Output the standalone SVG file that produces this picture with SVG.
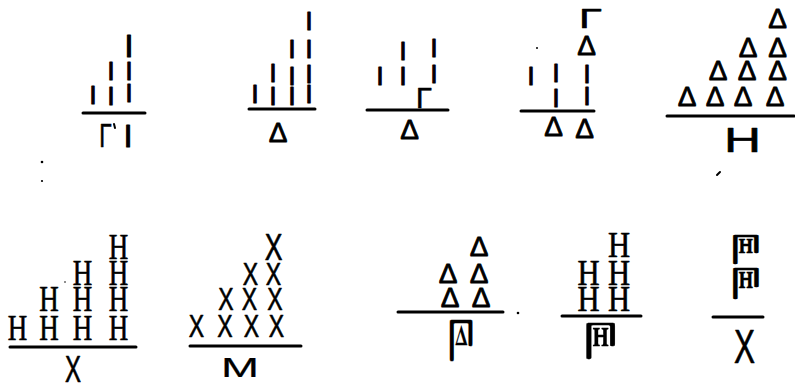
<svg xmlns="http://www.w3.org/2000/svg" width="795" height="390" viewBox="0 0 795 390">
<style>
text{fill:#000;stroke:#000;stroke-width:0.6;stroke-linejoin:round;text-anchor:middle;font-family:"Liberation Sans",Arial,sans-serif}
.i{font-size:25px;stroke-width:1.1}
.d{font-size:28px;stroke-width:0.8}
.h{font-family:"Liberation Serif","Times New Roman",serif;font-size:36px}
.x{font-size:32px}
.n{font-family:"DejaVu Sans","Noto Sans","Noto Sans Symbols",sans-serif;stroke-width:0.3}
.ln{stroke:#000;stroke-width:3;stroke-linecap:round;fill:none}
.mk{stroke:#000;stroke-width:2;stroke-linecap:round;fill:none}
</style>
<rect width="795" height="390" fill="#fff"/>

<g id="p1">
<text class="i"><tspan x="93" y="104">I</tspan><tspan x="111" y="80">I</tspan><tspan x="111" y="105">I</tspan><tspan x="129" y="57" style="font-size:32px">I</tspan><tspan x="129" y="80">I</tspan><tspan x="129" y="102">I</tspan></text>
<line class="ln" x1="83" y1="113" x2="145" y2="113"/>
<text><tspan x="105.5" y="147" style="font-size:33px" textLength="12.5" lengthAdjust="spacingAndGlyphs">Γ</tspan><tspan x="128" y="147" style="font-size:31px;stroke-width:1.1">I</tspan></text>
<path class="mk" d="M114,124 L115,128"/>
</g>

<g id="p2">
<text class="i"><tspan x="255" y="103">I</tspan><tspan x="273" y="82">I</tspan><tspan x="273" y="105">I</tspan><tspan x="292" y="58">I</tspan><tspan x="292" y="85">I</tspan><tspan x="292" y="105">I</tspan><tspan x="309" y="30">I</tspan><tspan x="309" y="58">I</tspan><tspan x="309" y="83">I</tspan><tspan x="309" y="103">I</tspan></text>
<line class="ln" x1="249" y1="109" x2="315" y2="109"/>
<text class="d" x="278" y="142">Δ</text>
</g>

<g id="p3">
<text class="i"><tspan x="380" y="85">I</tspan><tspan x="403" y="60">I</tspan><tspan x="403" y="85">I</tspan><tspan x="434" y="57">I</tspan><tspan x="434" y="83">I</tspan><tspan x="424" y="108" style="font-size:29px;stroke-width:0.6">Γ</tspan></text>
<line class="ln" x1="367" y1="110" x2="448" y2="110"/>
<text class="d" x="409.5" y="139">Δ</text>
</g>

<g id="p4">
<text class="i"><tspan x="590.5" y="28" style="font-size:28px;stroke-width:0.6" textLength="23" lengthAdjust="spacingAndGlyphs">Γ</tspan><tspan x="586.5" y="55" style="font-size:28px;stroke-width:0.8">Δ</tspan><tspan x="531" y="85">I</tspan><tspan x="556" y="82">I</tspan><tspan x="556" y="107">I</tspan><tspan x="587" y="83">I</tspan><tspan x="587" y="105">I</tspan></text>
<circle cx="537" cy="48" r="1" fill="#000"/>
<line class="ln" x1="521" y1="111" x2="594" y2="111"/>
<text class="d"><tspan x="553.5" y="136">Δ</tspan><tspan x="584.5" y="138">Δ</tspan></text>
</g>

<g id="p5">
<text class="d"><tspan x="777.5" y="28">Δ</tspan><tspan x="748" y="57">Δ</tspan><tspan x="777.5" y="57">Δ</tspan><tspan x="718" y="80">Δ</tspan><tspan x="747" y="80">Δ</tspan><tspan x="777.5" y="80">Δ</tspan><tspan x="687" y="106">Δ</tspan><tspan x="715" y="106">Δ</tspan><tspan x="743" y="106">Δ</tspan><tspan x="775" y="106">Δ</tspan></text>
<line class="ln" x1="667" y1="116" x2="794" y2="116"/>
<text x="742.5" y="152" style="font-size:35px" textLength="37" lengthAdjust="spacingAndGlyphs">H</text>
<path class="mk" d="M717,175 L720,172"/>
</g>

<g id="p6">
<text class="h" transform="scale(0.75,1)"><tspan x="23.33" y="340">H</tspan><tspan x="65.33" y="311">H</tspan><tspan x="65.33" y="340">H</tspan><tspan x="110" y="285">H</tspan><tspan x="110" y="311">H</tspan><tspan x="110" y="340">H</tspan><tspan x="158" y="259">H</tspan><tspan x="158" y="285">H</tspan><tspan x="158" y="311">H</tspan><tspan x="158" y="340">H</tspan></text>
<circle cx="65" cy="282" r="0.8" fill="#000"/>
<line class="ln" x1="10" y1="347" x2="136" y2="347"/>
<text x="73" y="382" style="font-size:37px" textLength="16" lengthAdjust="spacingAndGlyphs">X</text>
</g>

<g id="p7">
<text class="x" transform="scale(0.72,1)"><tspan x="272.9" y="337">X</tspan><tspan x="312.5" y="337">X</tspan><tspan x="349.3" y="337">X</tspan><tspan x="384" y="337">X</tspan><tspan x="313.9" y="310">X</tspan><tspan x="346.5" y="310">X</tspan><tspan x="381.9" y="310">X</tspan><tspan x="347.9" y="285">X</tspan><tspan x="379.9" y="285">X</tspan><tspan x="379.9" y="260" style="font-size:37px">X</tspan></text>
<line class="ln" x1="190" y1="346" x2="301" y2="346"/>
<text x="240" y="377" style="font-size:27px;stroke-width:0.2" textLength="38" lengthAdjust="spacingAndGlyphs">M</text>
</g>

<g id="p8">
<text class="d"><tspan x="479" y="256">Δ</tspan><tspan x="448" y="283">Δ</tspan><tspan x="479" y="283">Δ</tspan><tspan x="450" y="307">Δ</tspan><tspan x="481" y="307">Δ</tspan></text>
<line class="ln" x1="398" y1="312" x2="503" y2="312"/>
<circle cx="518" cy="313" r="1.3" fill="#000"/>
<text class="n" x="461" y="360" style="font-size:60px" textLength="26" lengthAdjust="spacingAndGlyphs">𐅄</text>
</g>

<g id="p9">
<text class="h" transform="scale(0.85,1)"><tspan x="728.24" y="257">H</tspan><tspan x="692.35" y="285">H</tspan><tspan x="728.24" y="285">H</tspan><tspan x="692.35" y="311">H</tspan><tspan x="728.24" y="311">H</tspan></text>
<line class="ln" x1="562" y1="316" x2="641" y2="316"/>
<text class="n" x="600" y="358" style="font-size:53px" textLength="33" lengthAdjust="spacingAndGlyphs">𐅅</text>
</g>

<g id="p10">
<text class="n"><tspan x="746" y="263" style="font-size:42px" textLength="30" lengthAdjust="spacingAndGlyphs">𐅅</tspan><tspan x="746" y="298" style="font-size:45px" textLength="30" lengthAdjust="spacingAndGlyphs">𐅅</tspan></text>
<line class="ln" x1="713" y1="317" x2="763" y2="317"/>
<text x="744.5" y="363" style="font-size:49px" textLength="21" lengthAdjust="spacingAndGlyphs">X</text>
</g>

<g id="marks">
<circle cx="42" cy="162" r="1.3" fill="#000"/>
<circle cx="42" cy="181" r="1.1" fill="#000"/>
</g>
</svg>
